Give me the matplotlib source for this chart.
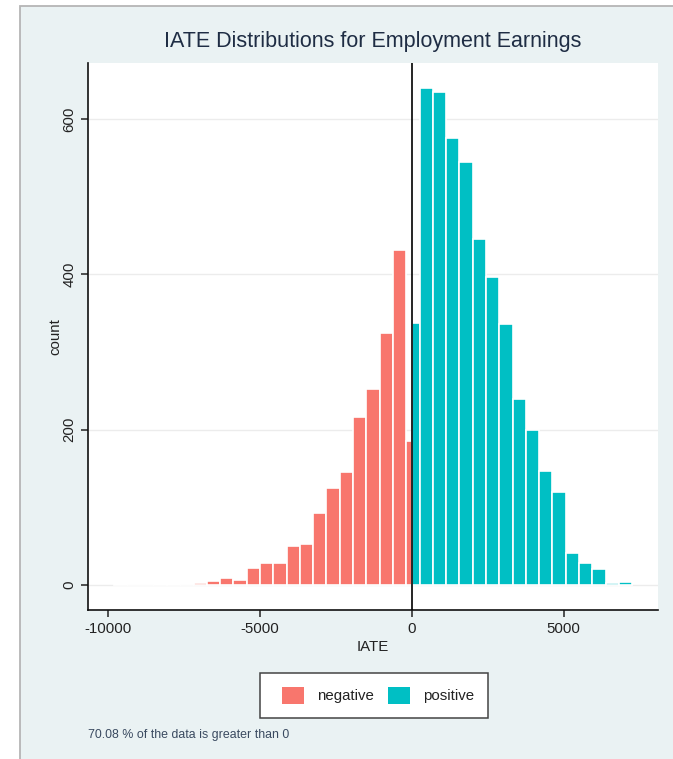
import matplotlib
matplotlib.use('Agg')
import matplotlib.pyplot as plt
from matplotlib.patches import Rectangle, Patch

plt.rcParams['font.family'] = ['Liberation Sans', 'DejaVu Sans']
plt.rcParams['axes.unicode_minus'] = False

# ---- data ----
bin_start = -9805.0
bin_width = 437.5
neg_counts = [1, 0, 0, 1, 1, 0, 3, 5, 9, 7, 22, 28, 28, 51, 53, 93, 125, 145, 216, 253, 324, 431]
split_neg = 185   # negative part of the bin straddling 0
split_pos = 338   # positive part of the bin straddling 0
pos_counts = [640, 635, 576, 544, 445, 396, 336, 240, 200, 147, 120, 41, 29, 21, 3, 4]
x_ticks = [-10000, -5000, 0, 5000]
y_ticks = [0, 200, 400, 600]
legend_labels = ['negative', 'positive']
title = 'IATE Distributions for Employment Earnings'
footnote = '70.08 % of the data is greater than 0'

RED = '#F8766D'
TEAL = '#00BFC4'
BG = '#EAF2F3'
TXT = '#1f2d44'

W, H = 673, 759
fig = plt.figure(figsize=(W / 100, H / 100), dpi=100, facecolor='white')

# outer background panel with border (cropped at right/bottom)
fig.patches.append(Rectangle((20 / W, -0.01), 1.1, 1 - 6 / H + 0.01, transform=fig.transFigure,
                             facecolor=BG, edgecolor='#b5b5b5', lw=1.3, zorder=-10))

ax = fig.add_axes([88 / W, 1 - 610 / H, (658 - 88) / W, (610 - 63) / H])
ax.set_zorder(2)
ax.set_facecolor('white')

n_neg = len(neg_counts)
neg_left = [bin_start + i * bin_width for i in range(n_neg)]
split_left = bin_start + n_neg * bin_width
pos_left = [split_left + (i + 1) * bin_width for i in range(len(pos_counts))]

bar_kw = dict(align='edge', edgecolor='white', linewidth=1.2, zorder=2)
ax.bar(neg_left, neg_counts, width=bin_width, color=RED, **bar_kw)
ax.bar([split_left], [split_neg], width=-split_left, color=RED, **bar_kw)
ax.bar([0], [split_pos], width=split_left + bin_width, color=TEAL, **bar_kw)
ax.bar(pos_left, pos_counts, width=bin_width, color=TEAL, **bar_kw)

ax.axvline(0, color='black', lw=1.2, zorder=3)

lo = bin_start
hi = pos_left[-1] + bin_width
pad = 0.05 * (hi - lo)
ax.set_xlim(lo - pad, hi + pad)
ymax = max(pos_counts + neg_counts + [split_neg, split_pos])
ax.set_ylim(-0.05 * ymax, 1.05 * ymax)

ax.set_xticks(x_ticks)
ax.set_xticklabels([str(t) for t in x_ticks])
ax.set_yticks(y_ticks)
ax.set_yticklabels([str(t) for t in y_ticks])
ax.tick_params(axis='both', length=5, width=1.1, color='#222222', labelsize=10.8,
               labelcolor='#222222', pad=3.5)
ax.tick_params(axis='y', labelrotation=90)
for lab in ax.get_yticklabels():
    lab.set_va('center')

ax.yaxis.grid(True, color='#ececec', lw=1.0, zorder=0)
ax.set_axisbelow(True)

for s in ['top', 'right']:
    ax.spines[s].set_visible(False)
for s in ['left', 'bottom']:
    ax.spines[s].set_linewidth(1.2)
    ax.spines[s].set_color('#111111')

ax.set_xlabel('IATE', fontsize=10.8, color='#222222', labelpad=3)
ax.set_ylabel('count', fontsize=10.8, color='#222222', labelpad=0)

fig.text(373 / W, 1 - 42 / H, title, ha='center', va='center', fontsize=15.5, color=TXT)

# legend
fig.patches.append(Rectangle((260 / W, 1 - 718 / H), (487.5 - 260) / W, (718 - 672.7) / H,
                             transform=fig.transFigure, facecolor='white', edgecolor='#444444',
                             lw=1.1, zorder=-5))
handles = [Patch(facecolor=RED, edgecolor='none'), Patch(facecolor=TEAL, edgecolor='none')]
leg = fig.legend(handles, legend_labels, loc='center', bbox_to_anchor=(378 / W, 1 - 695.5 / H),
                 ncol=2, frameon=False, fontsize=10.8, handlelength=1.48, handleheight=1.46,
                 handletextpad=0.86, columnspacing=0.9, borderpad=0)
for t in leg.get_texts():
    t.set_color('#222222')
leg.set_zorder(5)

fig.text(88 / W, 1 - 735 / H, footnote, ha='left', va='center', fontsize=8.9, color='#3a4a60')

fig.savefig('out.png', dpi=100, facecolor=fig.get_facecolor())
